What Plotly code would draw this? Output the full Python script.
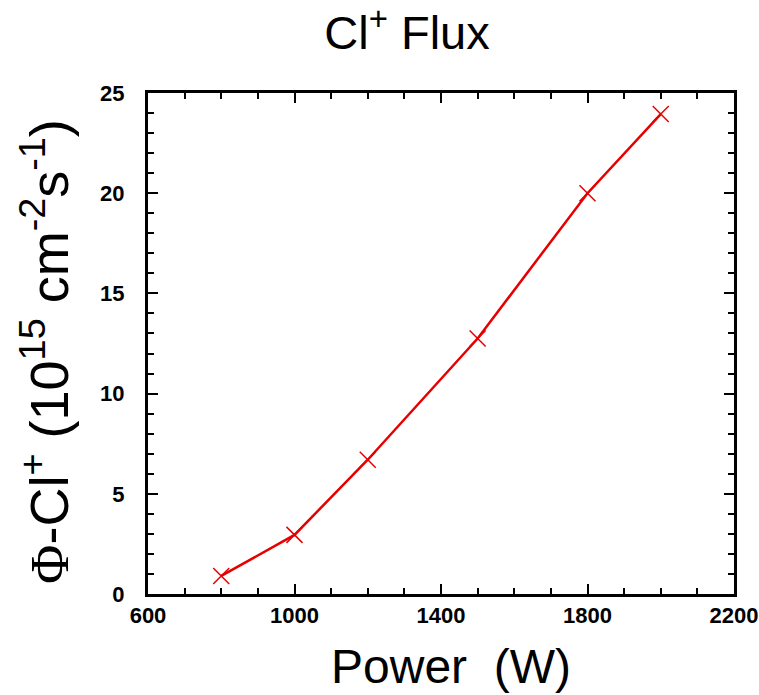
import plotly.graph_objects as go

power_w = [800, 1000, 1200, 1500, 1800, 2000]
flux = [0.9, 2.95, 6.7, 12.75, 20.0, 23.95]

x_ticks = [600, 1000, 1400, 1800, 2200]
y_ticks = [0, 5, 10, 15, 20, 25]

fig = go.Figure()
fig.add_trace(go.Scatter(
    x=power_w, y=flux, mode="lines+markers",
    line=dict(color="#e60000", width=2.5),
    marker=dict(symbol="x-thin", size=16, line=dict(color="#e60000", width=1.5)),
    showlegend=False,
))

tickfont = dict(family="Liberation Sans, Arial", size=22, color="black", weight="bold")

L, R, T, B = 148, 25, 93, 101
W, H = 759, 695
pw, ph = W - L - R, H - T - B

fig.update_layout(
    width=W, height=H,
    margin=dict(l=L, r=R, t=T, b=B, autoexpand=False),
    paper_bgcolor="white", plot_bgcolor="white",
    title=dict(text="Cl<sup>+</sup> Flux", x=407/W, xanchor="center",
               y=1 - 33/H, yanchor="middle",
               font=dict(family="Liberation Sans, Arial", size=47, color="black")),
)

fig.add_annotation(
    text="Power \u00a0(W)", xref="paper", yref="paper",
    x=(451 - L) / pw, y=(H - B - 666) / ph, xanchor="center", yanchor="middle",
    showarrow=False, font=dict(family="Liberation Sans, Arial", size=48, color="black"),
)
fig.add_annotation(
    text="<span style='font-family:Liberation Serif'>Φ</span>-Cl<sup>+</sup> (10<sup>15</sup> cm<sup>-2</sup>s<sup>-1</sup>)",
    xref="paper", yref="paper", textangle=-90,
    x=(45 - L) / pw, y=(H - B - 352) / ph, xanchor="center", yanchor="middle",
    showarrow=False, font=dict(family="Liberation Sans, Arial", size=54, color="black"),
)

fig.update_xaxes(
    range=[600, 2200], tickvals=x_ticks, ticktext=[str(v) for v in x_ticks],
    showline=True, linecolor="black", linewidth=3, mirror="allticks",
    ticks="inside", ticklen=10, tickwidth=2, tickcolor="black",
    minor=dict(dtick=100, ticks="inside", ticklen=6, tickwidth=1.5, tickcolor="black"),
    showgrid=False, zeroline=False, tickfont=tickfont,
    automargin=False, ticklabeloverflow="allow",
)
fig.update_yaxes(
    range=[0, 25], tickvals=y_ticks, ticktext=[str(v) for v in y_ticks],
    showline=True, linecolor="black", linewidth=3, mirror="allticks",
    ticks="inside", ticklen=10, tickwidth=2, tickcolor="black",
    minor=dict(dtick=1, ticks="inside", ticklen=6, tickwidth=1.5, tickcolor="black"),
    showgrid=False, zeroline=False, tickfont=tickfont, ticklabelstandoff=16,
    automargin=False,
)

fig.write_html("out.html")
